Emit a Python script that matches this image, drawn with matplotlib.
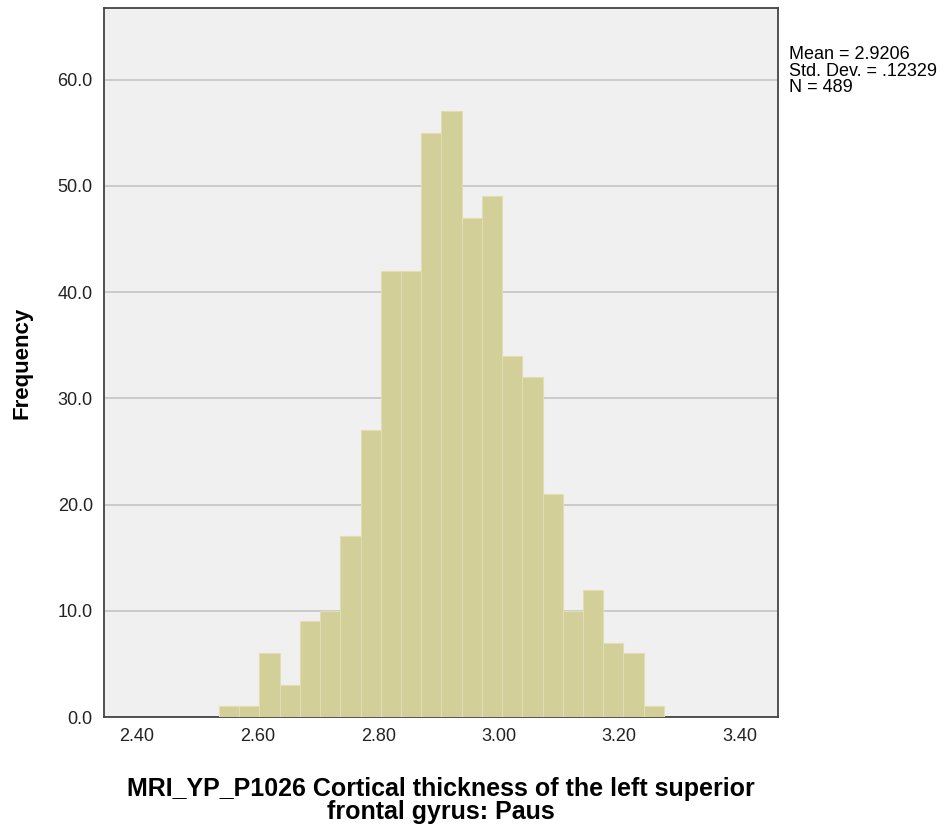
import numpy as np
import matplotlib.pyplot as plt

plt.rcParams['font.family'] = ['Liberation Sans', 'DejaVu Sans']

# histogram bins
bin_start = 2.536
bin_width = 0.03355
counts = [1, 1, 6, 3, 9, 10, 17, 27, 42, 42, 55, 57, 47, 49, 34, 32, 21, 10, 12, 7, 6, 1]
x_ticks = [2.40, 2.60, 2.80, 3.00, 3.20, 3.40]
y_ticks = [0, 10, 20, 30, 40, 50, 60]
stats_text = 'Mean = 2.9206\nStd. Dev. = .12329\nN = 489'
x_label = 'MRI_YP_P1026 Cortical thickness of the left superior\nfrontal gyrus: Paus'

fig = plt.figure(figsize=(9.45, 8.3), dpi=100)
ax = fig.add_axes([0.110, 0.136, 0.713, 0.854])
ax.set_facecolor('#f0f0f0')

lefts = bin_start + bin_width * np.arange(len(counts))
ax.bar(lefts, counts, width=bin_width, align='edge', color='#d3cf98',
       edgecolor='#e2ddb2', linewidth=0.8, zorder=3)

ax.set_xlim(2.345, 3.463)
ax.set_ylim(0, 66.7)
ax.set_xticks(x_ticks)
ax.set_xticklabels([f'{v:.2f}' for v in x_ticks])
ax.set_yticks(y_ticks)
ax.set_yticklabels([f'{v:.1f}' for v in y_ticks])
ax.tick_params(length=0, labelsize=13, colors='#222222', pad=8)
ax.grid(axis='y', color='#c4c4c4', lw=1.2, zorder=1)
for s in ax.spines.values():
    s.set_color('#444444')
    s.set_linewidth(1.3)

ax.set_xlabel(x_label, fontsize=18, fontweight='bold', labelpad=23, linespacing=0.92)
ax.set_ylabel('Frequency', fontsize=16, fontweight='bold', labelpad=18)

fig.text(0.835, 0.944, stats_text, fontsize=13, va='top', ha='left', linespacing=0.95)

fig.savefig('out.png', dpi=100)
